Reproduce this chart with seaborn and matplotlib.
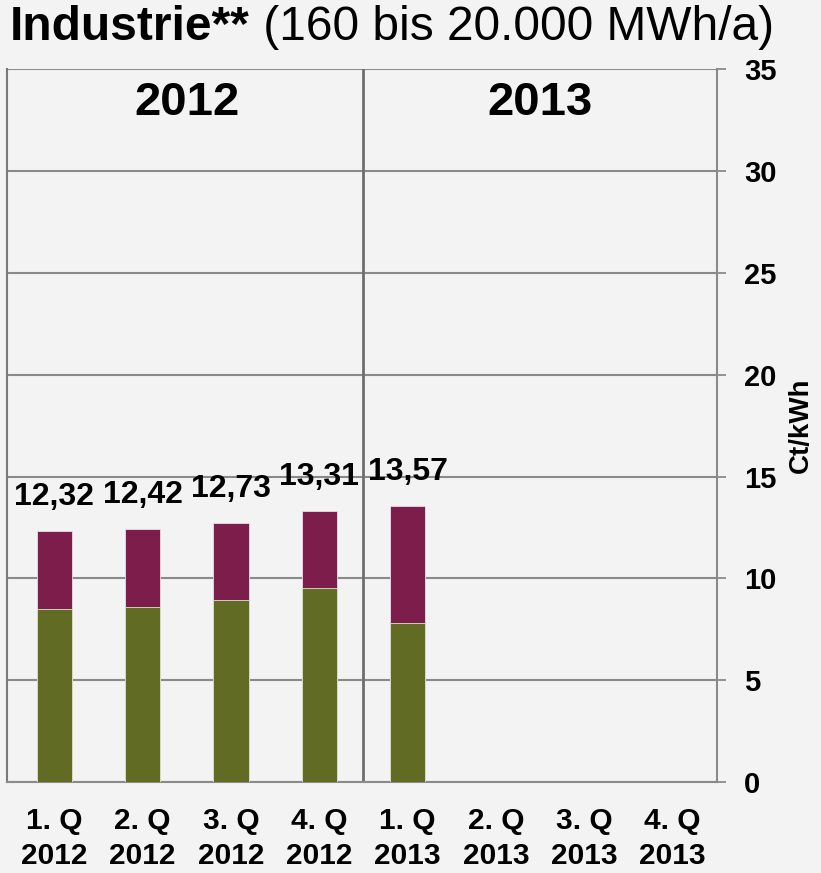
import matplotlib
matplotlib.use("Agg")
import matplotlib.pyplot as plt
import seaborn as sns
import pandas as pd

# ---- data ----
quarters = ["1. Q\n2012", "2. Q\n2012", "3. Q\n2012", "4. Q\n2012",
            "1. Q\n2013", "2. Q\n2013", "3. Q\n2013", "4. Q\n2013"]
shown = quarters[:5]
totals = [12.32, 12.42, 12.73, 13.31, 13.57]
lower = [8.52, 8.60, 8.92, 9.51, 7.83]
total_labels = ["12,32", "12,42", "12,73", "13,31", "13,57"]
years = ["2012", "2013"]
yticks = [0, 5, 10, 15, 20, 25, 30, 35]

GREEN = "#626b23"
MAROON = "#7d1d4b"
BG = "#f3f3f3"
GRID = "#8a8a8a"

df = pd.DataFrame({"quarter": shown, "total": totals, "lower": lower})

sns.set_theme(style="white")
plt.rcParams["font.family"] = ["Liberation Sans", "DejaVu Sans"]
plt.rcParams["text.color"] = "black"
plt.rcParams["xtick.color"] = "black"
plt.rcParams["ytick.color"] = "black"
plt.rcParams["axes.labelcolor"] = "black"

fig = plt.figure(figsize=(8.21, 8.73), dpi=100, facecolor=BG)
ax = fig.add_axes([6.7 / 821, 1 - 782 / 873, (716.7 - 6.7) / 821, (782 - 69.3) / 873])
ax.set_facecolor(BG)

sns.barplot(data=df, x="quarter", y="total", order=quarters, color=MAROON,
            width=0.4, saturation=1, edgecolor="#e6e0e6", linewidth=0.6, ax=ax, zorder=3)
sns.barplot(data=df, x="quarter", y="lower", order=quarters, color=GREEN,
            width=0.4, saturation=1, edgecolor="#e0e4d0", linewidth=0.6, ax=ax, zorder=4)

ax.set_xlim(-0.54, 7.5)
ax.set_ylim(0, 35)
ax.set_yticks(yticks)
ax.yaxis.tick_right()
ax.yaxis.set_label_position("right")
ax.grid(axis="y", color=GRID, linewidth=1.5, zorder=1)
ax.grid(axis="x", visible=False)
ax.tick_params(axis="y", direction="out", length=6.5, width=1.3, color=GRID,
               labelcolor="black", labelsize=21, pad=13)
for lab in ax.get_yticklabels():
    lab.set_fontweight("bold")
ax.tick_params(axis="x", length=0, labelsize=21.5, pad=18, labelcolor="black")
for lab in ax.get_xticklabels():
    lab.set_fontweight("bold")
    lab.set_linespacing(1.32)

ax.set_xlabel("")
ax.set_ylabel("Ct/kWh", fontsize=20, fontweight="bold", labelpad=8, color="black")

for side in ["left", "right", "bottom"]:
    ax.spines[side].set_visible(True)
    ax.spines[side].set_color(GRID)
    ax.spines[side].set_linewidth(1.5)
ax.spines["left"].set_color("#7a7a7a")
ax.spines["top"].set_visible(False)

# divider between years
ax.axvline(3.5, color="#6e6e6e", linewidth=2, zorder=2)

# year labels
for i, yr in enumerate(years):
    ax.text(1.5 + 4 * i, 33.35, yr, ha="center", va="center",
            fontsize=34, fontweight="bold", color="black")

# value labels
for i, (t, lab) in enumerate(zip(totals, total_labels)):
    ax.annotate(lab, (i, t), xytext=(0, 18.5), textcoords="offset points",
                ha="center", va="baseline", fontsize=23, fontweight="bold",
                color="black", zorder=6)

# title in two parts
t1 = fig.text(10 / 821, 1 - 40 / 873, "Industrie**", fontsize=34.5,
              fontweight="bold", ha="left", va="baseline", color="black")
fig.canvas.draw()
bb = t1.get_window_extent(renderer=fig.canvas.get_renderer())
x2 = bb.x1 / fig.bbox.width
fig.text(x2, 1 - 40 / 873, " (160 bis 20.000 MWh/a)", fontsize=34.5,
         ha="left", va="baseline", color="black")

fig.savefig("out.png", dpi=100, facecolor=BG)
